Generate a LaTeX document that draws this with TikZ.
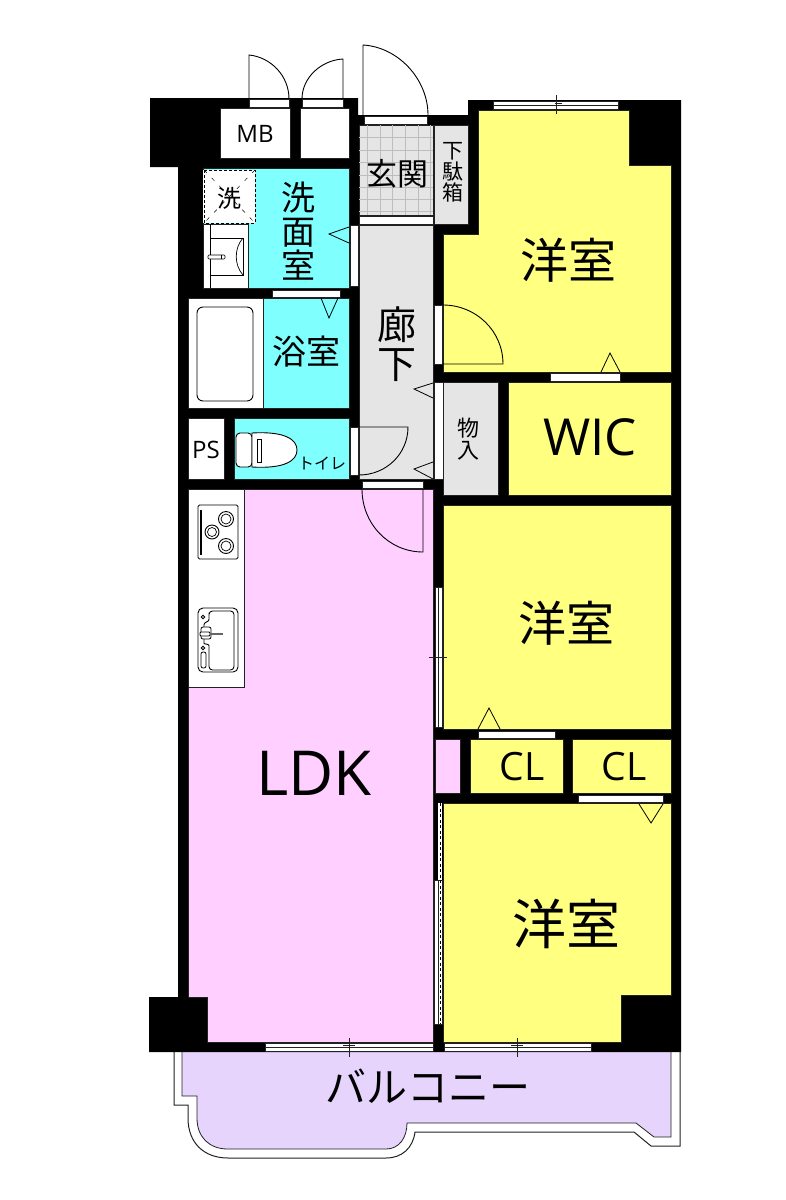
\documentclass[tikz,border=0pt]{standalone}
\usepackage{fontspec}
\newfontfamily\cjk{Noto Sans CJK JP}
\newfontfamily\lat{Open Sans}
\definecolor{yel}{HTML}{FFFF80}
\definecolor{cya}{HTML}{80FFFF}
\definecolor{pnk}{HTML}{FFCFFF}
\definecolor{lil}{HTML}{E6D4FC}
\definecolor{gry}{HTML}{E5E5E5}
\definecolor{grd}{HTML}{BDBDBD}
\definecolor{ln}{HTML}{222222}
\tikzset{
  room/.style={draw=ln,line width=0.6pt},
  opening/.style={fill=white,draw=ln,line width=0.5pt},
  leaf/.style={draw=black,line width=0.9pt},
  fix/.style={draw=black,line width=0.9pt,fill=white},
  tick/.style={draw=ln,line width=0.5pt},
  ja/.style={inner sep=0pt,text=black,align=center},
  en/.style={inner sep=0pt,text=black},
}
\newcommand{\jfs}[1]{\cjk\fontsize{#1}{#1}\selectfont}
\newcommand{\efs}[1]{\lat\fontsize{#1}{#1}\selectfont}
\begin{document}
\begin{tikzpicture}[x=1pt,y=-1pt]
\useasboundingbox (0,0) rectangle (785,1200);
\fill[white] (0,0) rectangle (785,1200);
% balcony
\draw[line width=1pt,draw=ln,fill=white] (174,1050) -- (174,1105) -- (188,1105) -- (188,1118)
  .. controls (188,1143) and (204,1158) .. (228,1158) -- (386,1158)
  .. controls (402,1158) and (413,1148) .. (415,1132) -- (634,1132) -- (651,1146) -- (680,1146) -- (680,1050) -- cycle;
\draw[line width=0.8pt,draw=ln,fill=lil] (182,1050) -- (182,1096) -- (197,1096) -- (197,1118)
  .. controls (197,1137) and (209,1149) .. (228,1149) -- (386,1149)
  .. controls (399,1149) and (407,1138) .. (407,1123) -- (636,1123) -- (654,1137) -- (671,1137) -- (671,1050) -- cycle;
% walls (black mass)
\fill[black] (150,98) -- (358,98) -- (358,115) -- (468,115) -- (468,100) -- (681,100) -- (681,1052)
  -- (149,1052) -- (149,997) -- (178,997) -- (178,167) -- (150,167) -- cycle;
% rooms
\draw[room,fill=white] (220,108) rectangle (290,158);
\draw[room,fill=white] (300,108) rectangle (349,158);
\draw[room,fill=yel] (478,110) -- (629,110) -- (629,165) -- (671,165) -- (671,372) -- (443,372) -- (443,234) -- (478,234) -- cycle;
\draw[room,fill=gry] (359,225) rectangle (433,479);
\draw[room,fill=gry] (434,125) rectangle (468,224);
\draw[room,fill=gry] (359,125) rectangle (433,215);
\foreach \x in {367,380,392,405,418,430} \draw[grd,line width=0.6pt] (\x,125) -- (\x,215);
\foreach \y in {137,150,162,175,187,199,211} \draw[grd,line width=0.6pt] (359,\y) -- (433,\y);
\draw[room,fill=white] (359,216) rectangle (433,224);
\draw[room,fill=cya] (203,168) rectangle (349,288);
\draw[room,fill=cya] (188,298) rectangle (349,408);
\draw[room,fill=cya] (234,418) rectangle (349,479);
\draw[room,fill=white] (188,298) rectangle (263,408);
\draw[room,fill=white] (188,418) rectangle (224,479);
\draw[room,fill=gry] (443,382) rectangle (498,495);
\draw[room,fill=yel] (508,382) rectangle (671,495);
\draw[room,fill=yel] (443,505) rectangle (671,729);
\draw[room,fill=pnk] (188,489) -- (433,489) -- (433,1042) -- (207,1042) -- (207,997) -- (188,997) -- cycle;
\draw[room,fill=pnk] (435,739) rectangle (460,793);
\draw[room,fill=yel] (470,739) rectangle (563,793);
\draw[room,fill=yel] (572,739) rectangle (671,793);
\draw[room,fill=yel] (443,803) -- (671,803) -- (671,995) -- (621,995) -- (621,1042) -- (443,1042) -- cycle;
\draw[room,fill=white] (188,489) rectangle (244,687);
% washing pan & vanity
\draw[room,fill=white] (203,224) rectangle (248,288);
\draw[line width=0.6pt] (210,224) -- (210,288);
\fill[white] (203,170) rectangle (255,223);
\draw[black,line width=0.7pt,dash pattern=on 3pt off 2pt] (204,170) rectangle (255,223);
\draw[black,line width=0.5pt,dash pattern=on 4pt off 7pt] (204,170) -- (255,223) (255,170) -- (204,223);
\draw[fix,line width=0.6pt] (210,238) rectangle (243,275);
\draw[line width=0.7pt] (243,238) .. controls (234,248) and (234,265) .. (243,275);
\draw[fix,line width=0.6pt,rounded corners=1pt] (208,255) rectangle (225,259);
\draw[line width=0.6pt] (221,255) -- (221,259);
% tub
\draw[fix,rounded corners=6pt] (197,307) rectangle (253,401);
% toilet
\draw[fix,rounded corners=4pt] (236,433) rectangle (252,467);
\draw[fix] (252,433) .. controls (286,431) and (297,440) .. (297,450) .. controls (297,460) and (286,469) .. (252,467) -- cycle;
\draw[line width=0.6pt] (257,439) rectangle (261,462);
% stove
\draw[fix,rounded corners=1.5pt] (198,505) rectangle (238,559);
\draw[line width=1.3pt] (201,510) -- (201,555);
\foreach \cx/\cy/\r in {226/519/7.5,212/532/7,226/546/7.5} {
  \draw[line width=0.9pt] (\cx,\cy) circle [radius=\r];
  \draw[line width=0.7pt] (\cx,\cy) circle [radius=\r-2.5];
}
% sink
\draw[fix,rounded corners=5pt] (198,608) rectangle (238,672);
\draw[line width=0.9pt,rounded corners=3.5pt] (209,611) -- (234,611) -- (234,670) -- (209,670) -- (209,649)
  .. controls (209,644) and (204,644) .. (204,640) -- (204,628) .. controls (204,622) and (209,622) .. (209,616) -- cycle;
\draw[line width=0.8pt,fill=white,rounded corners=2pt] (201,627) rectangle (211,639);
\draw[line width=0.8pt,fill=white,rounded corners=1pt] (200,632) rectangle (210,636);
\draw[line width=1.6pt,draw=ln!70] (210,634) -- (223,634);
\draw[line width=0.8pt] (203,617) circle [radius=1.8];
\draw[line width=0.8pt] (203,648) circle [radius=1.8];
\draw[line width=0.8pt,rounded corners=2pt] (201,652) rectangle (206,668);
% openings
\draw[opening] (249,99) rectangle (289,107);
\draw[opening] (302,99) rectangle (343,107);
\draw[opening] (364,116) rectangle (427,124);
\draw[opening] (493,101) rectangle (618,109);
\draw[opening] (434,305) rectangle (442,364);
\draw[opening] (550,373) rectangle (620,381);
\draw[opening] (350,225) rectangle (358,286);
\draw[opening] (272,290) rectangle (340,297);
\draw[opening] (350,427) rectangle (358,475);
\draw[opening] (434,382) rectangle (443,479);
\draw[opening] (362,481) rectangle (423,488);
\draw[opening] (478,731) rectangle (555,738);
\draw[opening] (578,795) rectangle (663,802);
\draw[opening] (435,587) rectangle (442,727);
\draw[opening] (265,1043) rectangle (433,1051);
\draw[opening] (444,1043) rectangle (591,1051);
\fill[white] (438,803) rectangle (442,1024);
\draw[opening] (434,880) rectangle (442,1024);
% sliding centres
\draw[tick] (493,105) -- (618,105) (555,103) -- (562,103) (556,95) -- (556,114);
\draw[tick] (438.5,587) -- (438.5,727) (429,657) -- (447,657);
\draw[tick] (265,1047) -- (433,1047) (349,1038) -- (349,1057) (343,1045) -- (355,1045);
\draw[tick] (444,1047) -- (591,1047) (517,1038) -- (517,1057) (511,1045) -- (523,1045);
\draw[tick] (438,880) -- (438,1024);
\draw[black,line width=0.7pt,dash pattern=on 3pt off 2.5pt] (440,803) -- (440,1024);
% door leaves
\draw[leaf] (249,99) -- (249,55) .. controls (270,57) and (289,75) .. (289,99);
\draw[leaf] (343,99) -- (343,59) .. controls (322,60) and (302,77) .. (302,99);
\draw[leaf] (363,115) -- (363,45) .. controls (398,47) and (428,79) .. (428,115);
\draw[leaf] (443,364) -- (503,364) .. controls (503,331) and (476,305) .. (443,305);
\draw[leaf] (359,427) -- (408,427) .. controls (408,454) and (386,475) .. (359,475);
\draw[leaf] (423,489) -- (423,552) .. controls (389,552) and (362,524) .. (362,489);
% swing triangles
\draw[leaf,line width=0.8pt] (349,227) -- (329,234) -- (349,243);
\draw[leaf,line width=0.8pt] (321,298) -- (329,318) -- (338,298);
\draw[leaf,line width=0.8pt] (433,383) -- (414,389) -- (433,398);
\draw[leaf,line width=0.8pt] (433,462) -- (414,469) -- (433,479);
\draw[leaf,line width=0.8pt] (601,372) -- (610,353) -- (620,372);
\draw[leaf,line width=0.8pt] (478,729) -- (489,708) -- (500,729);
\draw[leaf,line width=0.8pt] (639,804) -- (651,823) -- (663,804);
% labels
\node[en,font=\efs{24}] (mb) at (255,134) {MB};
\node[en,font=\efs{24}] (ps) at (206,450) {PS};
\node[en,font=\efs{51}] (wic) at (590,437) {WIC};
\node[en,font=\efs{39}] (cl1) at (522,767) {CL};
\node[en,font=\efs{39}] (cl2) at (624,767) {CL};
\node[en,font=\efs{62}] (ldk) at (314,773) {LDK};
\node[ja,font=\jfs{31}] (gk) at (397,174) {玄関};
\node[ja,font=\jfs{21}] (geta) at (453,172) {\baselineskip=21pt 下\\駄\\箱};
\node[ja,font=\jfs{24}] (sen) at (229,198) {洗};
\node[ja,font=\jfs{34}] (senm) at (298,231) {洗\\面\\室};
\node[ja,font=\jfs{34}] (yoku) at (306,352) {浴室};
\node[ja,font=\jfs{16}] (toi) at (322,463) {トイレ};
\node[ja,font=\jfs{39}] (rk) at (397,344) {廊\\下};
\node[ja,font=\jfs{22}] (mono) at (468,439) {物\\入};
\node[ja,font=\jfs{48}] (y1) at (568,260) {洋室};
\node[ja,font=\jfs{48}] (y2) at (566,623) {洋室};
\node[ja,font=\jfs{54}] (y3) at (566,924) {洋室};
\node[ja,font=\jfs{41}] (bal) at (428,1086) {バルコニー};
\end{tikzpicture}
\end{document}
